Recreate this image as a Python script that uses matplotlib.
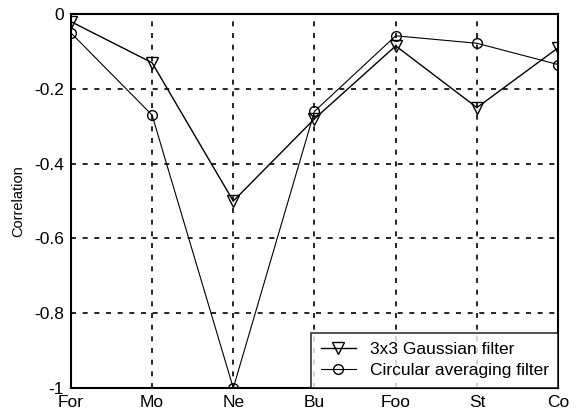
import numpy as np
import matplotlib.pyplot as plt

categories = ['For', 'Mo', 'Ne', 'Bu', 'Foo', 'St', 'Co']
gaussian = [-0.02, -0.13, -0.50, -0.28, -0.085, -0.25, -0.09]
circular = [-0.05, -0.27, -1.00, -0.26, -0.058, -0.078, -0.135]

plt.rcParams['font.family'] = ['Liberation Sans', 'DejaVu Sans']

fig = plt.figure(figsize=(5.76, 4.15), dpi=100)
ax = fig.add_axes([0.123, 0.065, 0.846, 0.901])

x = np.arange(len(categories))
ax.plot(x, gaussian, color='black', lw=1.0, marker='v', markersize=8,
        markerfacecolor='none', markeredgecolor='black',
        label='3x3 Gaussian filter')
ax.plot(x, circular, color='black', lw=0.8, marker='o', markersize=7,
        markerfacecolor='none', markeredgecolor='black',
        label='Circular averaging filter')

ax.set_xlim(0, len(categories) - 1)
ax.set_ylim(-1, 0)
ax.set_xticks(x)
ax.set_xticklabels(categories, fontsize=12.5)
ax.set_yticks([-1, -0.8, -0.6, -0.4, -0.2, 0])
ax.set_yticklabels(['-1', '-0.8', '-0.6', '-0.4', '-0.2', '0'], fontsize=12.5)
ax.tick_params(direction='in', length=0, pad=5)
ax.grid(True, color='black', linestyle=(0, (3, 4)), linewidth=1.2)
for s in ax.spines.values():
    s.set_linewidth(1.5)
ax.set_ylabel('Correlation', fontsize=10.5, labelpad=6)

leg = ax.legend(loc='lower right', fontsize=12.5, frameon=True, fancybox=False,
                edgecolor='black', borderaxespad=0, handlelength=2.0,
                handletextpad=0.8, borderpad=0.55, labelspacing=0.35)
leg.get_frame().set_linewidth(1.2)

fig.savefig('out.png', dpi=100)
